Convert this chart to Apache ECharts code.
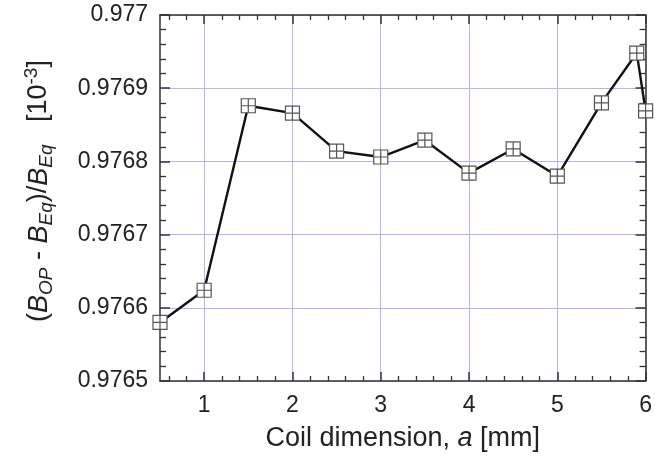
<!DOCTYPE html>
<html>
<head>
<meta charset="utf-8">
<script src="https://cdn.jsdelivr.net/npm/echarts@6/dist/echarts.min.js"></script>
<style>html,body{margin:0;padding:0;background:#fff;}#c{width:655px;height:458px;}</style>
</head>
<body>
<div id="c"></div>
<script>
const xValues = [0.5, 1, 1.5, 2, 2.5, 3, 3.5, 4, 4.5, 5, 5.5, 5.9, 6];
const yValues = [0.97658, 0.976624, 0.976876, 0.976866, 0.976814, 0.976806, 0.976829, 0.976784, 0.976817, 0.97678, 0.97688, 0.976948, 0.976869];
const xMajorTicks = [1, 2, 3, 4, 5, 6];
const xMinorTicks = [0.6, 0.8, 1.2, 1.4, 1.6, 1.8, 2.2, 2.4, 2.6, 2.8, 3.2, 3.4, 3.6, 3.8, 4.2, 4.4, 4.6, 4.8, 5.2, 5.4, 5.6, 5.8];

const FONT = 'Liberation Sans, Arial, sans-serif';
const TXT = '#222';
const AX = '#333';
const GRIDC = '#b4b4f0';

const chart = echarts.init(document.getElementById('c'), null, {renderer: 'canvas'});
const baseX = {
  type: 'value', min: 0.5, max: 6, gridIndex: 0
};
const option = {
  animation: false,
  backgroundColor: '#fff',
  grid: {left: 160, right: 7, top: 15, bottom: 77},
  xAxis: [
    Object.assign({}, baseX, {
      position: 'bottom',
      splitNumber: 5,
      axisLine: {show: true, onZero: false, lineStyle: {color: AX, width: 1.5}},
      axisTick: {show: true, inside: true, length: 9, customValues: xMajorTicks, lineStyle: {color: AX, width: 1.5}},
      axisLabel: {show: true, customValues: xMajorTicks, margin: 13, fontSize: 23, color: TXT, fontFamily: FONT},
      splitLine: {show: true, lineStyle: {color: GRIDC, width: 1}},
      name: 'Coil dimension, {i|a} [mm]',
      nameLocation: 'middle',
      nameGap: 44,
      nameTextStyle: {fontSize: 27, color: TXT, fontFamily: FONT, rich: {i: {fontSize: 27, fontStyle: 'italic', color: TXT, fontFamily: FONT}}}
    }),
    Object.assign({}, baseX, {
      position: 'top',
      axisLine: {show: true, onZero: false, lineStyle: {color: AX, width: 1.5}},
      axisTick: {show: true, inside: true, length: 9, customValues: xMajorTicks, lineStyle: {color: AX, width: 1.5}},
      axisLabel: {show: false},
      splitLine: {show: false}
    }),
    Object.assign({}, baseX, {
      position: 'bottom',
      axisLine: {show: false, onZero: false},
      axisTick: {show: true, inside: true, length: 5, customValues: xMinorTicks, lineStyle: {color: AX, width: 1.3}},
      axisLabel: {show: false, customValues: xMinorTicks},
      splitLine: {show: false}
    }),
    Object.assign({}, baseX, {
      position: 'top',
      axisLine: {show: false, onZero: false},
      axisTick: {show: true, inside: true, length: 5, customValues: xMinorTicks, lineStyle: {color: AX, width: 1.3}},
      axisLabel: {show: false, customValues: xMinorTicks},
      splitLine: {show: false}
    })
  ],
  yAxis: [
    {
      type: 'value', min: 0.9765, max: 0.977, interval: 0.0001, position: 'left',
      axisLine: {show: true, onZero: false, lineStyle: {color: AX, width: 1.5}},
      axisTick: {show: true, inside: true, length: 10, lineStyle: {color: AX, width: 1.5}},
      minorTick: {show: true, splitNumber: 5, length: 6, lineStyle: {color: AX, width: 1.3}},
      axisLabel: {margin: 12, fontSize: 23, color: TXT, fontFamily: FONT,
        formatter: function (v) { return String(parseFloat(v.toFixed(4))); }},
      splitLine: {show: true, lineStyle: {color: GRIDC, width: 1}},
      name: '{p|(}{i|B}{s|OP}{p| - }{i|B}{s|Eq}{p|)/}{i|B}{s|Eq}{p|   [10}{u|-3}{p|]}',
      nameLocation: 'middle',
      nameRotate: 90,
      nameGap: 104,
      nameTextStyle: {
        fontSize: 27, color: TXT, fontFamily: FONT,
        padding: [0, 0, 0, 14],
        rich: {
          p: {fontSize: 27, lineHeight: 34, color: TXT, fontFamily: FONT},
          i: {fontSize: 27, lineHeight: 34, fontStyle: 'italic', color: TXT, fontFamily: FONT},
          s: {fontSize: 19, lineHeight: 21, fontStyle: 'italic', verticalAlign: 'bottom', color: TXT, fontFamily: FONT},
          u: {fontSize: 19, lineHeight: 18, verticalAlign: 'top', color: TXT, fontFamily: FONT}
        }
      }
    },
    {
      type: 'value', min: 0.9765, max: 0.977, interval: 0.0001, position: 'right',
      axisLine: {show: true, onZero: false, lineStyle: {color: AX, width: 1.5}},
      axisTick: {show: true, inside: true, length: 10, lineStyle: {color: AX, width: 1.5}},
      minorTick: {show: true, splitNumber: 5, length: 6, lineStyle: {color: AX, width: 1.3}},
      axisLabel: {show: false},
      splitLine: {show: false}
    }
  ],
  series: [{
    type: 'line',
    xAxisIndex: 0,
    yAxisIndex: 0,
    data: xValues.map((x, i) => [x, yValues[i]]),
    clip: false,
    lineStyle: {color: '#111', width: 2.4},
    symbol: 'path://M0,0H10V10H0ZM5,0V10M0,5H10',
    symbolSize: 14,
    showAllSymbol: true,
    itemStyle: {color: '#fff', borderColor: '#555', borderWidth: 1.2},
    z: 5
  }]
};
chart.setOption(option);
</script>
</body>
</html>
